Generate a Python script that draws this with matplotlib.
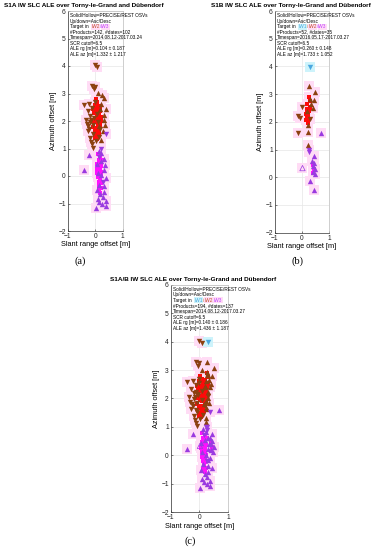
import matplotlib
matplotlib.use("Agg")
import matplotlib.pyplot as plt

plt.rcParams["font.family"] = ["Liberation Sans", "DejaVu Sans"]

# ── data ──────────────────────────────────────────────────────────────────────

# S1A
a_iw2_dn = [(0.00, 4.02), (0.08, 3.97), (-0.12, 3.28), (0.00, 3.24), (-0.05, 3.15),
            (-0.42, 2.57), (-0.22, 2.62), (-0.28, 2.35), (-0.12, 2.48), (-0.32, 1.88),
            (-0.18, 1.97), (-0.05, 2.12), (0.08, 2.25), (-0.22, 1.72), (-0.10, 1.52),
            (-0.28, 1.62), (-0.18, 1.38), (-0.12, 1.15), (0.12, 1.42), (0.02, 1.28),
            (-0.25, 1.82), (-0.10, 1.02), (-0.15, 2.05), (0.18, 1.72), (0.00, 2.68),
            (-0.08, 1.85), (-0.20, 2.20), (0.10, 1.95), (-0.35, 2.05), (-0.15, 1.25)]
a_iw2_up = [(0.30, 2.82), (0.38, 2.42), (0.22, 2.62), (0.32, 2.02), (0.28, 1.62),
            (0.22, 1.32), (0.10, 3.02), (0.30, 2.22), (0.15, 1.82), (0.25, 2.95),
            (0.35, 1.85), (0.18, 2.45)]
a_iw2_core = [(0.02, 2.80), (0.08, 2.70), (-0.02, 2.60), (0.12, 2.55), (0.02, 2.45),
              (0.10, 2.40), (0.18, 2.35), (-0.05, 2.30), (0.05, 2.25), (0.12, 2.20),
              (0.20, 2.15), (0.00, 2.10), (0.08, 2.05), (0.15, 2.00), (0.02, 1.95),
              (0.10, 1.90), (0.18, 1.85), (-0.08, 1.80), (0.05, 1.75), (0.12, 1.70),
              (0.00, 1.65), (0.08, 1.60), (0.15, 1.55), (0.02, 1.50), (0.10, 1.45),
              (-0.02, 1.40), (0.05, 1.35), (0.12, 2.30), (0.18, 2.50), (-0.08, 2.45),
              (0.22, 2.00), (-0.10, 2.00)]
a_iw3_up = [(-0.42, 0.22), (-0.22, 0.75), (0.12, 0.92), (0.22, 0.82), (0.32, 0.62),
            (0.05, 0.42), (0.32, 0.22), (0.38, -0.08), (0.12, -0.32), (0.32, -0.58),
            (0.10, -0.82), (0.38, -0.92), (0.02, -1.15), (0.38, -1.10), (0.25, -1.02),
            (0.22, 0.02), (0.05, -0.52), (0.30, -0.38), (0.10, 0.12), (0.28, -0.78),
            (0.18, -0.65), (0.35, 0.40), (0.20, 0.55), (0.15, -0.95)]
a_iw3_dn = [(0.38, 1.52), (0.22, 0.98), (0.15, 0.70), (0.28, -0.20)]
a_iw3_core = [(0.10, 0.80), (0.18, 0.70), (0.12, 0.60), (0.20, 0.50), (0.08, 0.45),
              (0.15, 0.40), (0.22, 0.35), (0.10, 0.30), (0.18, 0.25), (0.12, 0.20),
              (0.20, 0.15), (0.08, 0.10), (0.15, 0.05), (0.22, 0.00), (0.10, -0.05),
              (0.18, -0.10), (0.12, -0.20), (0.20, -0.25), (0.15, -0.35), (0.22, -0.45),
              (0.12, -0.50), (0.18, -0.60), (0.25, -0.20), (0.05, 0.25), (0.25, 0.60)]
a_iw3_hollow = []
a_iw1_dn = []

# S1B
b_iw1_dn = [(0.30, 3.98)]
b_iw2_dn = [(0.00, 2.55), (-0.13, 2.22), (-0.08, 2.15), (-0.13, 1.60), (0.30, 2.10)]
b_iw2_up = [(0.27, 3.30), (0.50, 3.06), (0.28, 2.82), (0.45, 2.78), (0.40, 2.50),
            (0.23, 1.90), (0.23, 1.65), (0.24, 1.18), (0.35, 2.65), (0.20, 2.40)]
b_iw2_core = [(0.25, 2.90), (0.30, 2.75), (0.20, 2.65), (0.28, 2.55), (0.18, 2.45),
              (0.25, 2.40), (0.15, 2.30), (0.22, 2.25), (0.18, 2.15), (0.25, 2.10),
              (0.15, 2.05), (0.22, 1.95), (0.20, 2.35), (0.30, 2.50)]
b_iw3_up = [(0.69, 1.58), (0.45, 0.75), (0.37, 0.60), (0.45, 0.50), (0.50, 0.30),
            (0.42, 0.20), (0.48, 0.10), (0.30, -0.15), (0.45, -0.45), (0.40, 0.40)]
b_iw3_dn = [(0.27, 1.00), (0.25, 0.90)]
b_iw3_core = [(0.42, 0.45), (0.45, 0.30), (0.40, 0.15)]
b_iw3_hollow = [(0.02, 0.33)]

# S1A/B = union of both
c_iw1_dn = a_iw1_dn + b_iw1_dn
c_iw2_dn = a_iw2_dn + b_iw2_dn
c_iw2_up = a_iw2_up + b_iw2_up
c_iw2_core = a_iw2_core + b_iw2_core
c_iw3_up = a_iw3_up + b_iw3_up
c_iw3_dn = a_iw3_dn + b_iw3_dn
c_iw3_core = a_iw3_core + b_iw3_core
c_iw3_hollow = a_iw3_hollow + b_iw3_hollow

titles = ["S1A IW SLC ALE over Torny-le-Grand and Dübendorf",
          "S1B IW SLC ALE over Torny-le-Grand and Dübendorf",
          "S1A/B IW SLC ALE over Torny-le-Grand and Dübendorf"]
n_products = [142, 52, 194]
n_dates = [102, 35, 137]
timespans = ["2014.08.12-2017.03.24", "2016.05.17-2017.03.27", "2014.08.12-2017.03.27"]
ale_rg = ["0.104 ± 0.187", "0.260 ± 0.148", "0.140 ± 0.186"]
ale_az = ["1.332 ± 1.217", "1.733 ± 1.052", "1.436 ± 1.187"]
targets = [["IW2", "IW3"], ["IW1", "IW2", "IW3"], ["IW1", "IW2", "IW3"]]
captions = ["(a)", "(b)", "(c)"]

# ── styling ───────────────────────────────────────────────────────────────────

BROWN = "#8c4010"
RED = "#ff0a0a"
PURPLE = "#9a3ae0"
MAGENTA = "#ff10ff"
CYAN = "#4aa8e0"
PINK_BG = "#ffdcf5"
CYAN_BG = "#cdf3fb"
TXT_COL = {"IW1": (CYAN, CYAN_BG), "IW2": ("#c0502a", PINK_BG), "IW3": ("#c040ff", PINK_BG)}

fig = plt.figure(figsize=(3.73, 5.5), dpi=100)
fig.patch.set_facecolor("white")

positions = [(0.182, 0.580, 0.147, 0.400),
             (0.737, 0.577, 0.145, 0.403),
             (0.458, 0.069, 0.153, 0.413)]
title_xy = [(0.225, 0.990), (0.780, 0.990), (0.517, 0.491)]
caption_xy = [(0.215, 0.516), (0.797, 0.516), (0.509, 0.007)]

panels = [
    (a_iw1_dn, a_iw2_dn, a_iw2_up, a_iw2_core, a_iw3_up, a_iw3_dn, a_iw3_core, a_iw3_hollow),
    (b_iw1_dn, b_iw2_dn, b_iw2_up, b_iw2_core, b_iw3_up, b_iw3_dn, b_iw3_core, b_iw3_hollow),
    (c_iw1_dn, c_iw2_dn, c_iw2_up, c_iw2_core, c_iw3_up, c_iw3_dn, c_iw3_core, c_iw3_hollow),
]


def xs(pts):
    return [p[0] for p in pts]


def ys(pts):
    return [p[1] for p in pts]


for k, (pos, pdata) in enumerate(zip(positions, panels)):
    iw1_dn, iw2_dn, iw2_up, iw2_core, iw3_up, iw3_dn, iw3_core, iw3_hollow = pdata
    ax = fig.add_axes(pos)

    # light background patches behind each target
    pink = iw2_dn + iw2_up + iw2_core + iw3_up + iw3_dn + iw3_core + iw3_hollow
    if pink:
        ax.scatter(xs(pink), ys(pink), marker="s", s=55, color=PINK_BG,
                   linewidths=0, zorder=1)
    if iw1_dn:
        ax.scatter(xs(iw1_dn), ys(iw1_dn), marker="s", s=55, color=CYAN_BG,
                   linewidths=0, zorder=1)

    ms = 15
    ax.scatter(xs(iw2_core), ys(iw2_core), marker="s", s=10, color=RED, linewidths=0, zorder=3)
    ax.scatter(xs(iw3_core), ys(iw3_core), marker="s", s=10, color=MAGENTA, linewidths=0, zorder=3)
    ax.scatter(xs(iw2_dn), ys(iw2_dn), marker="v", s=ms, color=BROWN, linewidths=0, zorder=4)
    ax.scatter(xs(iw2_up), ys(iw2_up), marker="^", s=ms, color=BROWN, linewidths=0, zorder=4)
    ax.scatter(xs(iw3_up), ys(iw3_up), marker="^", s=ms, color=PURPLE, linewidths=0, zorder=4)
    ax.scatter(xs(iw3_dn), ys(iw3_dn), marker="v", s=ms, color=PURPLE, linewidths=0, zorder=4)
    if iw3_hollow:
        ax.scatter(xs(iw3_hollow), ys(iw3_hollow), marker="^", s=ms, facecolors="none",
                   edgecolors=PURPLE, linewidths=0.5, zorder=4)
    if iw1_dn:
        ax.scatter(xs(iw1_dn), ys(iw1_dn), marker="v", s=ms, color=CYAN, linewidths=0, zorder=4)

    ax.set_xlim(-1, 1)
    ax.set_ylim(-2, 6)
    ax.set_xticks([-1, 0, 1])
    ax.set_yticks(range(-2, 7))
    ax.grid(True, color="#e6e6e6", linewidth=0.5, zorder=0)
    ax.set_axisbelow(True)
    ax.tick_params(direction="in", length=1.5, width=0.4, labelsize=4.8, pad=1.5,
                   colors="#222222")
    for s in ax.spines.values():
        s.set_linewidth(0.5)
        s.set_color("#bbbbbb")
    ax.spines["left"].set_color("#333333")
    ax.spines["bottom"].set_color("#333333")
    ax.set_ylabel("Azimuth offset [m]", fontsize=5.3, labelpad=1)
    ax.set_xlabel("Slant range offset [m]", fontsize=5.3, labelpad=1)

    # info text block
    lines = ["Solid/Hollow=PRECISE/REST OSVs",
             "Up/down=Asc/Desc",
             None,
             f"#Products={n_products[k]}, #dates={n_dates[k]}",
             f"Timespan={timespans[k]}",
             "SCR cutoff=6.5",
             f"ALE rg [m]={ale_rg[k]}",
             f"ALE az [m]={ale_az[k]}"]
    fs = 3.4
    for i, line in enumerate(lines):
        off = (1.5, -5 - i * 4.0)
        if line is not None:
            ax.annotate(line, xy=(0, 1), xycoords="axes fraction", xytext=off,
                        textcoords="offset points", fontsize=fs, va="bottom",
                        ha="left", annotation_clip=False)
            continue
        prev = ax.annotate("Target in  ", xy=(0, 1), xycoords="axes fraction",
                           xytext=off, textcoords="offset points", fontsize=fs,
                           va="bottom", ha="left", annotation_clip=False)
        for j, t in enumerate(targets[k]):
            if j > 0:
                prev = ax.annotate("/", xy=(1, 0), xycoords=prev, fontsize=fs,
                                   va="bottom", ha="left", color=TXT_COL[t][0],
                                   annotation_clip=False)
            fc, bc = TXT_COL[t]
            prev = ax.annotate(t, xy=(1, 0), xycoords=prev, fontsize=fs,
                               va="bottom", ha="left", color=fc,
                               bbox=dict(boxstyle="square,pad=0.1", fc=bc, ec="none"),
                               annotation_clip=False)

    fig.text(title_xy[k][0], title_xy[k][1], titles[k], ha="center", va="center",
             fontsize=4.6, fontweight="bold")
    fig.text(caption_xy[k][0], caption_xy[k][1], captions[k], ha="center", va="bottom",
             fontsize=7.5, family=["Liberation Serif", "DejaVu Serif"])

fig.savefig("out.png", dpi=100, facecolor="white")
